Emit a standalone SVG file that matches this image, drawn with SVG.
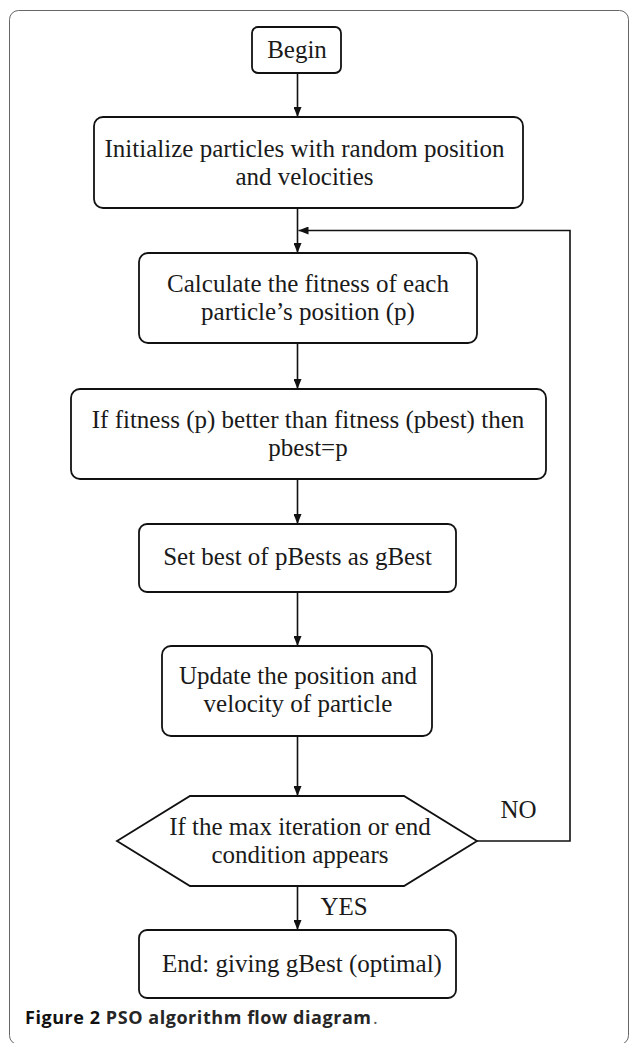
<svg xmlns="http://www.w3.org/2000/svg" width="629" height="1043" viewBox="0 0 629 1043">
<defs>
<style>
.box{fill:#fff;stroke:#111;stroke-width:1.8}
.t{font-family:"Liberation Serif","Times New Roman",serif;font-size:25px;fill:#1a1a1a;text-anchor:middle}
.c{stroke:#111;stroke-width:1.6;fill:none}
.cap{font-family:"Open Sans","Noto Sans",sans-serif;font-size:18px}
</style>
<marker id="ah" viewBox="0 0 10 8" refX="10" refY="4" markerWidth="10" markerHeight="8" markerUnits="userSpaceOnUse" orient="auto">
<path d="M0,0 L10,4 L0,8 z" fill="#111"/>
</marker>
</defs>
<rect x="9.5" y="10.5" width="619" height="1034" rx="9" fill="#fff" stroke="#666" stroke-width="1"/>
<g id="connectors">
<line class="c" x1="297.5" y1="73" x2="297.5" y2="117" marker-end="url(#ah)"/>
<line class="c" x1="297.5" y1="208" x2="297.5" y2="253" marker-end="url(#ah)"/>
<line class="c" x1="297.5" y1="343" x2="297.5" y2="389" marker-end="url(#ah)"/>
<line class="c" x1="297.5" y1="479" x2="297.5" y2="524" marker-end="url(#ah)"/>
<line class="c" x1="297.5" y1="592" x2="297.5" y2="646" marker-end="url(#ah)"/>
<line class="c" x1="297.5" y1="736" x2="297.5" y2="796" marker-end="url(#ah)"/>
<line class="c" x1="297.5" y1="886" x2="297.5" y2="930" marker-end="url(#ah)"/>
<polyline class="c" points="477,841 570,841 570,230.5 298.5,230.5" marker-end="url(#ah)"/>
<text class="t" x="518.5" y="818">NO</text>
<text class="t" x="344" y="915">YES</text>
</g>
<g id="begin">
<rect class="box" x="252" y="27" width="89" height="46" rx="6"/>
<text class="t" x="297" y="58">Begin</text>
</g>
<g id="init">
<rect class="box" x="94" y="117" width="429" height="91" rx="9"/>
<text class="t" x="304.5" y="157">Initialize particles with random position</text>
<text class="t" x="304.5" y="185">and velocities</text>
</g>
<g id="calc">
<rect class="box" x="139" y="253" width="338" height="90" rx="9"/>
<text class="t" x="308" y="292">Calculate the fitness of each</text>
<text class="t" x="308" y="320">particle’s position (p)</text>
</g>
<g id="pbest">
<rect class="box" x="71" y="389" width="475" height="90" rx="9"/>
<text class="t" x="308" y="428">If fitness (p) better than fitness (pbest) then</text>
<text class="t" x="308" y="456">pbest=p</text>
</g>
<g id="gbest">
<rect class="box" x="139" y="524" width="317" height="68" rx="8"/>
<text class="t" x="297.5" y="565">Set best of pBests as gBest</text>
</g>
<g id="update">
<rect class="box" x="162" y="646" width="270" height="90" rx="9"/>
<text class="t" x="298" y="684">Update the position and</text>
<text class="t" x="298" y="712">velocity of particle</text>
</g>
<g id="decision">
<polygon class="box" points="117,841 190,796 404,796 477,841 404,886 190,886"/>
<text class="t" x="300" y="835">If the max iteration or end</text>
<text class="t" x="300" y="863">condition appears</text>
</g>
<g id="end">
<rect class="box" x="139" y="930" width="317" height="68" rx="8"/>
<text class="t" x="302" y="972">End: giving gBest (optimal)</text>
</g>
<g id="caption">
<text class="cap" x="25" y="1024" textLength="346" lengthAdjust="spacing"><tspan fill="#111" font-weight="bold">Figure 2 </tspan><tspan fill="#262626" font-weight="bold">PSO algorithm flow diagram</tspan></text>
<text class="cap" x="373" y="1024" fill="#555">.</text>
</g>
</svg>
